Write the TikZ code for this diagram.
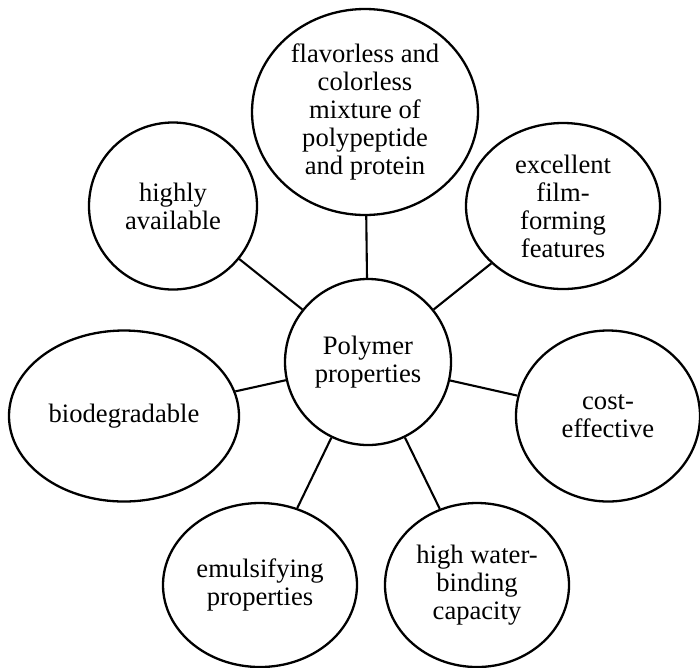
\documentclass[tikz,border=0pt]{standalone}
\usepackage{fontspec}
\setmainfont{Liberation Serif}
\usepackage{tikz}
\usetikzlibrary{shapes.geometric}

\tikzset{
  bubble/.style={ellipse, draw, line width=2.3pt, inner sep=0pt, align=center,
    font=\fontsize{26.6}{28}\selectfont},
  spoke/.style={line width=2.1pt}
}

\begin{document}
\begin{tikzpicture}[x=1pt, y=-1pt]
  \useasboundingbox (0,0) rectangle (700,667);
  % centre
  \node[bubble, minimum width=166pt, minimum height=166pt] (core) at (368,362)
    {Polymer\\properties};
  % satellites
  \node[bubble, minimum width=226pt, minimum height=206pt] (mixture) at (365,112)
    {flavorless and\\colorless\\mixture of\\polypeptide\\and protein};
  \node[bubble, minimum width=168pt, minimum height=167pt] (avail) at (173,206)
    {highly\\available};
  \node[bubble, minimum width=194pt, minimum height=166pt] (film) at (563,206)
    {excellent\\film-\\forming\\features};
  \node[bubble, minimum width=230pt, minimum height=171pt] (biodeg) at (124,416)
    {biodegradable};
  \node[bubble, minimum width=184pt, minimum height=171pt] (cost) at (608,416)
    {cost-\\effective};
  \node[bubble, minimum width=194pt, minimum height=164pt] (emul) at (260,585)
    {emulsifying\\properties};
  \node[bubble, minimum width=184pt, minimum height=164pt] (water) at (477,585)
    {high water-\\binding\\capacity};
  % spokes
  \foreach \n in {mixture,avail,film,biodeg,cost,emul,water}{
    \draw[spoke] (core) -- (\n);
  }
\end{tikzpicture}
\end{document}
